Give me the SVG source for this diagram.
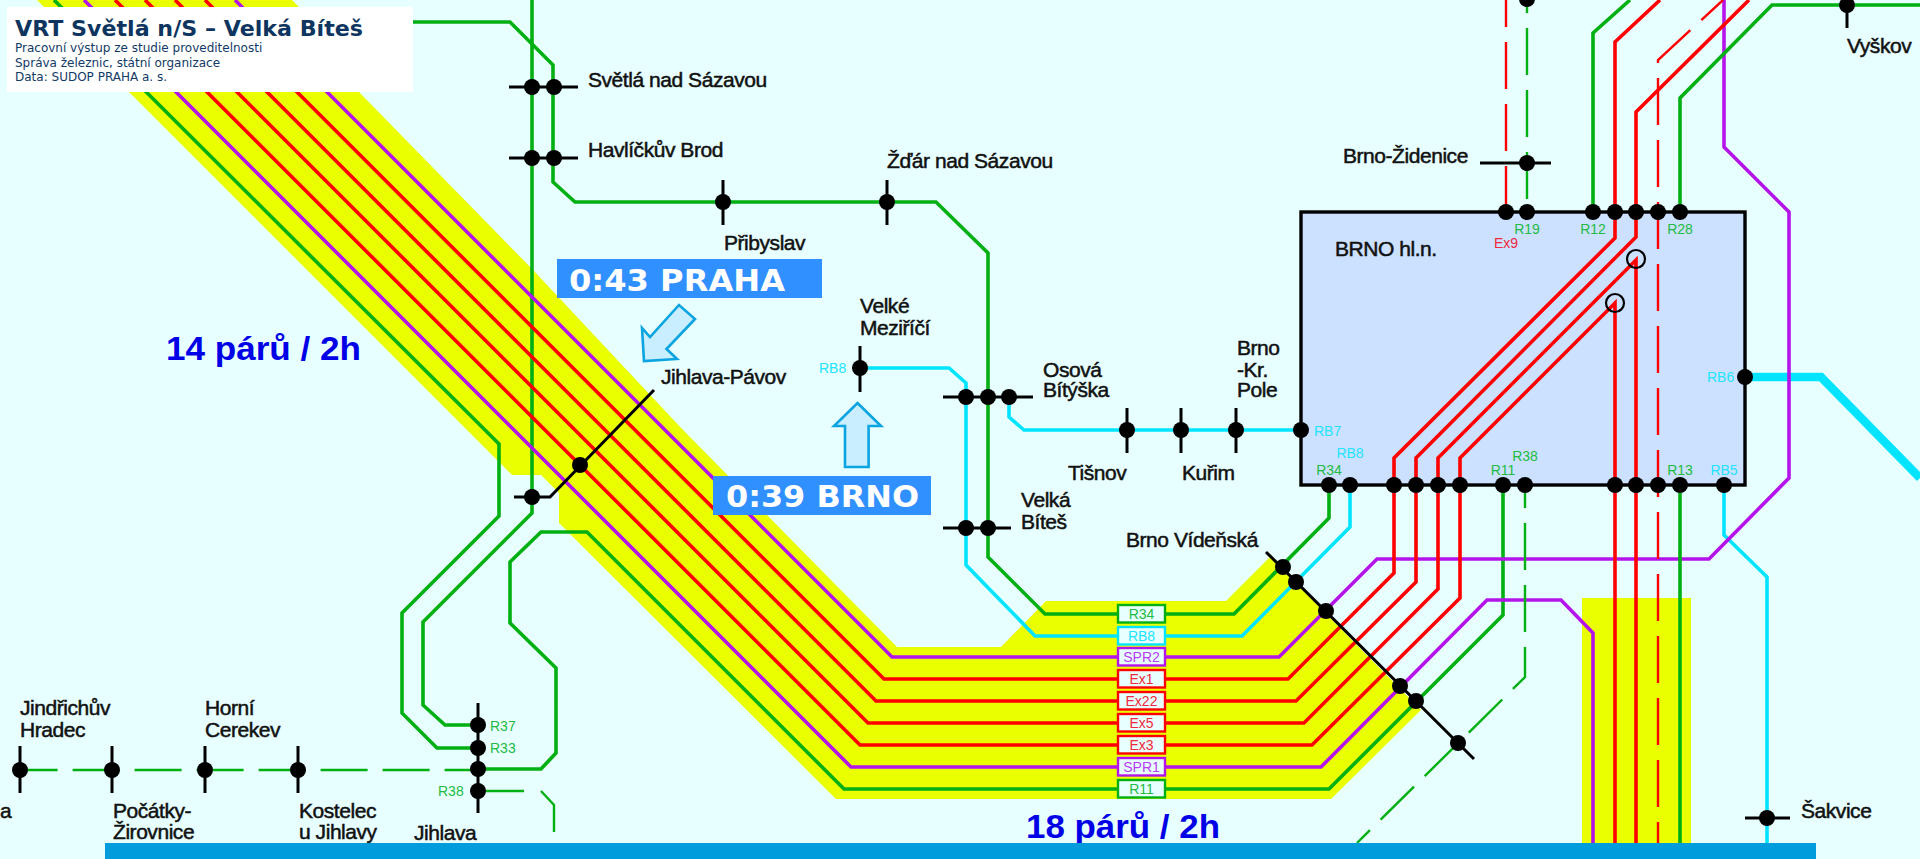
<svg xmlns="http://www.w3.org/2000/svg" width="1920" height="859" viewBox="0 0 1920 859">
<style>
.l{fill:none;stroke-linejoin:miter;stroke-width:3.6}
.g{stroke:#00b012}.r{stroke:#ff0000}.p{stroke:#b414ea}.c{stroke:#00e4ff}
.d{stroke-width:2.4;stroke-dasharray:47 15}
.t{stroke:#000;stroke-width:3;fill:none}
circle{fill:#000}
.st{font-family:"Liberation Sans",Arial,sans-serif;font-size:21px;letter-spacing:-.45px;fill:#111;stroke:#111;stroke-width:.5}
.s{font-family:"Liberation Sans",Arial,sans-serif;font-size:14px}
.m{text-anchor:middle}
.tg{fill:#22bb44}.tc{fill:#22e4ff}.tp{fill:#b83cf0}.tr{fill:#f0283c}
.big{font-family:"Liberation Sans",Arial,sans-serif;font-weight:bold;font-size:34px;fill:#0000e6}
.blue{font-family:"DejaVu Sans",Verdana,sans-serif;font-weight:bold;font-size:31px;fill:#fff}
.sub{font-family:"DejaVu Sans",Verdana,sans-serif;font-size:12px;fill:#123a66}
.arr{fill:#c8eeff;stroke:#0aa4e0;stroke-width:2.6}
</style>
<rect width="1920" height="859" fill="#e8ffff"/>
<g id="bands">
<polygon fill="#eaff00" points="37,0 512,475 541,475 559,493 559,523 836,799 1331,799 1421,710 1270,557 1226,601 1046,601 1001,647 897,647 683,430 533,270 359,92 300,8 292,0"/>
<rect x="1582" y="598" width="109" height="245" fill="#eaff00"/>
</g>
<g id="brno-box"><rect x="1301" y="212" width="444" height="273" fill="#cce1ff" stroke="#000" stroke-width="3.4"/></g>
<g id="connectors">
<path class="l g" d="M532,0V497"/>
<path class="l g" d="M532,497V513L423,622V705L445,725H478"/>
<path class="l g" d="M54,0L499,444V516L402,613V713L437,748H478"/>
<path class="l g" d="M478,769H541L556,753V668L510,623V562L541,532H587L844,789H1329L1503,615V485"/>
<path class="l g d" d="M19.6,770H478" stroke-dashoffset="9"/>
<path class="l g" style="stroke-width:2.4" d="M486,791H524M541,791L554,805V832"/>
<path class="l g" d="M289,22H510L553,65V182L575,202H936L988,253V557L1045,614H1234L1329,518V485"/>
<path class="l c" d="M859,368H949L966,383V565L1035,636H1242L1350,527V485"/>
<path class="l c" d="M1009,397V417L1024,430H1301"/>
<path class="l c" style="stroke-width:8.5" d="M1745,377H1821L1920,478"/>
<path class="l c" d="M1724,485V535L1767,577V843"/>
<path class="l p" d="M235,0L892,657H1279L1377,559H1709L1789,478V212L1724,147V0"/>
<path class="l p" d="M84,0L851,767H1321L1487,600H1561L1593,633V843"/>
<path class="l r" d="M205,0L884,679H1288L1394,573V458L1615,238V42L1660,0"/>
<path class="l r" d="M175,0L876,701H1296L1416,582V458L1636,237V112L1749,0"/>
<path class="l r" d="M145,0L868,723H1304L1438,589V458L1636,260V843"/>
<path class="l r" d="M115,0L860,745H1312L1460,598V458L1615,303V843"/>
<path class="l g" d="M1593,212V33L1630,0"/>
<path class="l g" d="M1680,212V98L1772,5H1920"/>
<path class="l g" d="M1680,485V843"/>
<path class="l g d" d="M1527,0V212" stroke-dashoffset="34"/>
<path class="l r d" d="M1506,0V212" stroke-dashoffset="20"/>
<path class="l r d" d="M1723,0L1658,60V843" stroke-dashoffset="17.5"/>
<path class="l g d" d="M1525,485V677L1357,843" stroke-dashoffset="24"/>
<path class="t" d="M514,497H550L654,390"/>
<path class="t" d="M1266,552L1474,759"/>
<circle cx="1636" cy="259" r="9" style="fill:none;stroke:#000;stroke-width:2.2"/>
<circle cx="1615" cy="303" r="9" style="fill:none;stroke:#000;stroke-width:2.2"/>
</g>
<g id="svetla"><path class="t" d="M509,87H578"/><circle cx="532" cy="87" r="8"/><circle cx="554" cy="87" r="8"/><text class="st" x="588" y="87">Světlá nad Sázavou</text></g>
<g id="havlickuv-brod"><path class="t" d="M509,158H578"/><circle cx="532" cy="158" r="8"/><circle cx="554" cy="158" r="8"/><text class="st" x="588" y="157">Havlíčkův Brod</text></g>
<g id="pribyslav"><path class="t" d="M723,180V225"/><circle cx="723" cy="202" r="8"/><text class="st" x="724" y="250">Přibyslav</text></g>
<g id="zdar"><path class="t" d="M887,180V225"/><circle cx="887" cy="202" r="8"/><text class="st" x="887" y="168">Žďár nad Sázavou</text></g>
<g id="velke-mezirici"><path class="t" d="M860,346V392"/><circle cx="860" cy="368" r="8"/><text class="st" x="860" y="313">Velké</text><text class="st" x="860" y="335">Meziříčí</text><text class="s tc" x="819" y="373">RB8</text></g>
<g id="jihlava-pavov"><circle cx="580" cy="465" r="8"/><circle cx="532" cy="497" r="8"/><text class="st" x="661" y="384">Jihlava-Pávov</text></g>
<g id="osova"><path class="t" d="M943,397H1033"/><circle cx="966" cy="397" r="8"/><circle cx="988" cy="397" r="8"/><circle cx="1009" cy="397" r="8"/><text class="st" x="1043" y="377">Osová</text><text class="st" x="1043" y="397">Bítýška</text></g>
<g id="tisnov"><path class="t" d="M1127,408V453"/><circle cx="1127" cy="430" r="8"/><text class="st" x="1068" y="480">Tišnov</text></g>
<g id="kurim"><path class="t" d="M1181,408V453"/><circle cx="1181" cy="430" r="8"/><text class="st" x="1182" y="480">Kuřim</text></g>
<g id="kralovo-pole"><path class="t" d="M1236,408V453"/><circle cx="1236" cy="430" r="8"/><text class="st" x="1237" y="355">Brno</text><text class="st" x="1237" y="377">-Kr.</text><text class="st" x="1237" y="397">Pole</text></g>
<g id="velka-bites"><path class="t" d="M943,528H1011"/><circle cx="966" cy="528" r="8"/><circle cx="988" cy="528" r="8"/><text class="st" x="1021" y="507">Velká</text><text class="st" x="1021" y="529">Bíteš</text></g>
<g id="brno-videnska"><circle cx="1283" cy="567" r="8"/><circle cx="1296" cy="582" r="8"/><circle cx="1326" cy="611" r="8"/><circle cx="1400" cy="686" r="8"/><circle cx="1416" cy="701" r="8"/><circle cx="1458" cy="743" r="8"/><text class="st" x="1126" y="547">Brno Vídeňská</text></g>
<g id="brno-zidenice"><path class="t" d="M1480,163H1551"/><circle cx="1527" cy="163" r="8"/><circle cx="1527" cy="-1" r="8"/><text class="st" x="1343" y="163">Brno-Židenice</text></g>
<g id="vyskov"><path class="t" d="M1847,5V28"/><circle cx="1847" cy="5" r="8"/><text class="st" x="1847" y="53">Vyškov</text></g>
<g id="sakvice"><path class="t" d="M1745,818H1790"/><circle cx="1767" cy="818" r="8"/><text class="st" x="1801" y="818">Šakvice</text></g>
<g id="brno-hl-n">
<circle cx="1506" cy="212" r="8"/><circle cx="1527" cy="212" r="8"/><circle cx="1593" cy="212" r="8"/><circle cx="1615" cy="212" r="8"/><circle cx="1636" cy="212" r="8"/><circle cx="1658" cy="212" r="8"/><circle cx="1680" cy="212" r="8"/>
<circle cx="1329" cy="485" r="8"/><circle cx="1350" cy="485" r="8"/><circle cx="1394" cy="485" r="8"/><circle cx="1416" cy="485" r="8"/><circle cx="1438" cy="485" r="8"/><circle cx="1460" cy="485" r="8"/><circle cx="1503" cy="485" r="8"/><circle cx="1525" cy="485" r="8"/><circle cx="1615" cy="485" r="8"/><circle cx="1636" cy="485" r="8"/><circle cx="1658" cy="485" r="8"/><circle cx="1680" cy="485" r="8"/><circle cx="1724" cy="485" r="8"/>
<circle cx="1301" cy="430" r="8"/><circle cx="1745" cy="377" r="8"/>
<text class="st" x="1335" y="256">BRNO hl.n.</text>
<text class="s m tg" x="1527" y="234">R19</text><text class="s m tg" x="1593" y="234">R12</text><text class="s m tg" x="1680" y="234">R28</text><text class="s m tr" x="1506" y="248">Ex9</text>
<text class="s tc" x="1314" y="436">RB7</text><text class="s tc" x="1707" y="382">RB6</text>
<text class="s m tc" x="1350" y="458">RB8</text><text class="s m tg" x="1329" y="475">R34</text><text class="s m tg" x="1525" y="461">R38</text><text class="s m tg" x="1503" y="475">R11</text><text class="s m tg" x="1680" y="475">R13</text><text class="s m tc" x="1724" y="475">RB5</text>
</g>
<g id="jihlava"><path class="t" d="M478,703V813"/><circle cx="478" cy="725" r="8"/><circle cx="478" cy="748" r="8"/><circle cx="478" cy="769" r="8"/><circle cx="478" cy="791" r="8"/><text class="st" x="414" y="840">Jihlava</text>
<text class="s tg" x="490" y="731">R37</text><text class="s tg" x="490" y="753">R33</text><text class="s tg" x="438" y="796">R38</text></g>
<g id="jindrichuv-hradec"><path class="t" d="M20,746V793"/><circle cx="20" cy="770" r="8"/><text class="st" x="20" y="715">Jindřichův</text><text class="st" x="20" y="737">Hradec</text></g>
<g id="pocatky"><path class="t" d="M112,746V793"/><circle cx="112" cy="770" r="8"/><text class="st" x="113" y="818">Počátky-</text><text class="st" x="113" y="839">Žirovnice</text></g>
<g id="horni-cerekev"><path class="t" d="M205,746V793"/><circle cx="205" cy="770" r="8"/><text class="st" x="205" y="715">Horní</text><text class="st" x="205" y="737">Cerekev</text></g>
<g id="kostelec"><path class="t" d="M298,746V793"/><circle cx="298" cy="770" r="8"/><text class="st" x="299" y="818">Kostelec</text><text class="st" x="299" y="839">u Jihlavy</text></g>
<text class="st" x="0" y="818">a</text>
<g id="line-labels">
<g fill="#e8ffff" stroke-width="2.4">
<rect x="1118" y="605" width="47" height="17.5" stroke="#00b012"/><rect x="1118" y="627" width="47" height="17.5" stroke="#00e4ff"/><rect x="1118" y="648" width="47" height="17.5" stroke="#b414ea"/><rect x="1118" y="670" width="47" height="17.5" stroke="#ff0000"/><rect x="1118" y="692" width="47" height="17.5" stroke="#ff0000"/><rect x="1118" y="714" width="47" height="17.5" stroke="#ff0000"/><rect x="1118" y="736" width="47" height="17.5" stroke="#ff0000"/><rect x="1118" y="758" width="47" height="17.5" stroke="#b414ea"/><rect x="1118" y="780" width="47" height="17.5" stroke="#00b012"/>
</g>
<text class="s m tg" x="1141.500" y="619">R34</text><text class="s m tc" x="1141.500" y="641">RB8</text><text class="s m tp" x="1141.500" y="662">SPR2</text><text class="s m tr" x="1141.500" y="684">Ex1</text><text class="s m tr" x="1141.500" y="706">Ex22</text><text class="s m tr" x="1141.500" y="728">Ex5</text><text class="s m tr" x="1141.500" y="750">Ex3</text><text class="s m tp" x="1141.500" y="772">SPR1</text><text class="s m tg" x="1141.500" y="794">R11</text>
</g>
<g id="annotations">
<polygon class="arr" points="644,361 642,328 650,337 679,305 695,319 666.500,349 677,359"/>
<polygon class="arr" points="857.500,403 881,426 868.600,426 868.600,467 845,467 845,426 834,426"/>
<rect x="557" y="259" width="265" height="39" fill="#3090ff"/>
<text class="blue" x="569" y="291" textLength="216" lengthAdjust="spacingAndGlyphs">0:43 PRAHA</text>
<rect x="713" y="476" width="218" height="39" fill="#3090ff"/>
<text class="blue" x="726" y="507" textLength="193" lengthAdjust="spacingAndGlyphs">0:39 BRNO</text>
<text class="big" x="166" y="360" textLength="195" lengthAdjust="spacingAndGlyphs">14 párů / 2h</text>
<text class="big" x="1026" y="838" textLength="194" lengthAdjust="spacingAndGlyphs">18 párů / 2h</text>
</g>
<g id="title-box">
<rect x="7" y="7" width="406" height="85" fill="#fff"/>
<text x="15" y="36" font-family="'DejaVu Sans',Verdana,sans-serif" font-weight="bold" font-size="22" fill="#0d3560" textLength="348" lengthAdjust="spacingAndGlyphs">VRT Světlá n/S – Velká Bíteš</text>
<text class="sub" x="15" y="52">Pracovní výstup ze studie proveditelnosti</text>
<text class="sub" x="15" y="67">Správa železnic, státní organizace</text>
<text class="sub" x="15" y="81">Data: SUDOP PRAHA a. s.</text>
</g>
<rect id="footer-bar" x="105" y="843" width="1711" height="16" fill="#009cdc"/>
</svg>
